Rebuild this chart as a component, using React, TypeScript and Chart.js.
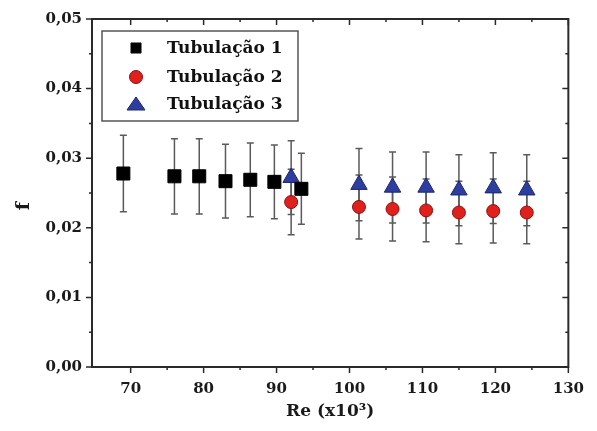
import React, { useEffect, useRef } from 'react';
import { Chart, registerables } from 'chart.js';

Chart.register(...registerables);

// Data (Re in x10^3, friction factor f, error bar half-lengths)
const tub1Re = [69.0, 76.0, 79.4, 83.0, 86.4, 89.7, 93.4];
const tub1F = [0.0278, 0.0274, 0.0274, 0.0267, 0.0269, 0.0266, 0.0256];
const tub1Err = [0.0055, 0.0054, 0.0054, 0.0053, 0.0053, 0.0053, 0.0051];

const tub2Re = [92.0, 101.3, 105.9, 110.5, 115.0, 119.7, 124.3];
const tub2F = [0.0237, 0.0230, 0.0227, 0.0225, 0.0222, 0.0224, 0.0222];
const tub2Err = [0.0047, 0.0046, 0.0046, 0.0045, 0.0045, 0.0046, 0.0045];

const tub3Re = [92.0, 101.3, 105.9, 110.5, 115.0, 119.7, 124.3];
const tub3F = [0.0272, 0.0262, 0.0258, 0.0258, 0.0254, 0.0257, 0.0254];
const tub3Err = [0.0053, 0.0052, 0.0051, 0.0051, 0.0051, 0.0051, 0.0051];

const seriesLabels = ['Tubulação 1', 'Tubulação 2', 'Tubulação 3'];
const xTickValues = [70, 80, 90, 100, 110, 120, 130];
const xMinorValues = [75, 85, 95, 105, 115, 125];
const yTickValues = [0, 0.01, 0.02, 0.03, 0.04, 0.05];
const yMinorValues = [0.005, 0.015, 0.025, 0.035, 0.045];

const FONT = "'DejaVu Serif', 'Liberation Serif', serif";
const AXIS_COLOR = '#2a2a2a';

const errorBarPlugin = {
  id: 'errorBars',
  beforeDatasetsDraw(chart: any) {
    const { ctx, scales } = chart;
    const xs = scales.x;
    const ys = scales.y;
    ctx.save();
    ctx.strokeStyle = '#5a5a5a';
    ctx.lineWidth = 1.5;
    chart.data.datasets.forEach((ds: any) => {
      const errs: number[] = ds.errors || [];
      ds.data.forEach((p: any, i: number) => {
        const e = errs[i];
        if (e == null) return;
        const px = xs.getPixelForValue(p.x);
        const yTop = ys.getPixelForValue(p.y + e);
        const yBot = ys.getPixelForValue(p.y - e);
        ctx.beginPath();
        ctx.moveTo(px, yTop);
        ctx.lineTo(px, yBot);
        ctx.moveTo(px - 3.5, yTop);
        ctx.lineTo(px + 3.5, yTop);
        ctx.moveTo(px - 3.5, yBot);
        ctx.lineTo(px + 3.5, yBot);
        ctx.stroke();
      });
    });
    ctx.restore();
  },
};

const framePlugin = {
  id: 'frameTicks',
  afterDraw(chart: any) {
    const { ctx, chartArea, scales } = chart;
    const { left, right, top, bottom } = chartArea;
    const xs = scales.x;
    const ys = scales.y;
    ctx.save();
    ctx.strokeStyle = AXIS_COLOR;
    ctx.lineWidth = 2;
    ctx.strokeRect(left, top, right - left, bottom - top);
    ctx.lineWidth = 1.5;
    ctx.beginPath();
    xTickValues.forEach((v) => {
      const px = xs.getPixelForValue(v);
      ctx.moveTo(px, bottom);
      ctx.lineTo(px, bottom + 6);
      ctx.moveTo(px, top);
      ctx.lineTo(px, top + 6);
    });
    xMinorValues.forEach((v) => {
      const px = xs.getPixelForValue(v);
      ctx.moveTo(px, bottom);
      ctx.lineTo(px, bottom + 3);
      ctx.moveTo(px, top);
      ctx.lineTo(px, top + 3);
    });
    yTickValues.forEach((v) => {
      const py = ys.getPixelForValue(v);
      ctx.moveTo(left, py);
      ctx.lineTo(left - 6, py);
      ctx.moveTo(right, py);
      ctx.lineTo(right - 6, py);
    });
    yMinorValues.forEach((v) => {
      const py = ys.getPixelForValue(v);
      ctx.moveTo(left, py);
      ctx.lineTo(left - 3, py);
      ctx.moveTo(right, py);
      ctx.lineTo(right - 3, py);
    });
    ctx.stroke();
    ctx.restore();
  },
};

const legendPlugin = {
  id: 'boxLegend',
  afterDraw(chart: any) {
    const { ctx, chartArea } = chart;
    const bx = chartArea.left + 10;
    const by = chartArea.top + 12;
    const bw = 196;
    const bh = 90;
    ctx.save();
    ctx.fillStyle = '#ffffff';
    ctx.fillRect(bx, by, bw, bh);
    ctx.strokeStyle = '#555555';
    ctx.lineWidth = 1.5;
    ctx.strokeRect(bx, by, bw, bh);
    const rowY = [by + 17, by + 46, by + 73];
    ctx.font = `bold 17px ${FONT}`;
    ctx.textBaseline = 'middle';
    ctx.textAlign = 'left';
    chart.data.datasets.forEach((ds: any, i: number) => {
      const mx = bx + 34;
      const my = rowY[i];
      ctx.fillStyle = ds.backgroundColor;
      ctx.strokeStyle = ds.borderColor;
      ctx.lineWidth = 1;
      ctx.beginPath();
      if (ds.pointStyle === 'rect') {
        ctx.rect(mx - 5, my - 5, 10, 10);
      } else if (ds.pointStyle === 'circle') {
        ctx.arc(mx, my, 6.5, 0, Math.PI * 2);
      } else {
        ctx.moveTo(mx, my - 7);
        ctx.lineTo(mx + 9, my + 6);
        ctx.lineTo(mx - 9, my + 6);
        ctx.closePath();
      }
      ctx.fill();
      ctx.stroke();
      ctx.fillStyle = '#111111';
      ctx.fillText(ds.label, bx + 65, my + 1);
    });
    ctx.restore();
  },
};

export default function App() {
  const canvasRef = useRef<HTMLCanvasElement | null>(null);

  useEffect(() => {
    document.body.style.margin = '0';
    const canvas = canvasRef.current;
    if (!canvas) return;
    const chart = new Chart(canvas, {
      type: 'scatter',
      data: {
        datasets: [
          {
            label: seriesLabels[0],
            data: tub1Re.map((x, i) => ({ x, y: tub1F[i] })),
            errors: tub1Err,
            pointStyle: 'rect',
            pointRadius: 9.2,
            pointHoverRadius: 9.2,
            backgroundColor: '#000000',
            borderColor: '#000000',
            borderWidth: 1,
          } as any,
          {
            label: seriesLabels[1],
            data: tub2Re.map((x, i) => ({ x, y: tub2F[i] })),
            errors: tub2Err,
            pointStyle: 'circle',
            pointRadius: 6.5,
            pointHoverRadius: 6.5,
            backgroundColor: '#e0201c',
            borderColor: '#8c1010',
            borderWidth: 1,
          } as any,
          {
            label: seriesLabels[2],
            data: tub3Re.map((x, i) => ({ x, y: tub3F[i] })),
            errors: tub3Err,
            pointStyle: 'triangle',
            pointRadius: 9.5,
            pointHoverRadius: 9.5,
            backgroundColor: '#2e3e9e',
            borderColor: '#1c2670',
            borderWidth: 1,
          } as any,
        ],
      },
      options: {
        animation: false,
        responsive: false,
        maintainAspectRatio: false,
        layout: { padding: { left: 0, right: 23, top: 15, bottom: 0 } },
        plugins: {
          legend: { display: false },
          tooltip: { enabled: false },
        },
        scales: {
          x: {
            type: 'linear',
            min: 64.7,
            max: 130,
            afterBuildTicks: (s: any) => {
              s.ticks = xTickValues.map((v) => ({ value: v }));
            },
            afterFit: (s: any) => {
              s.height = 64;
            },
            grid: { display: false, drawTicks: false, tickLength: 0 },
            border: { display: false },
            ticks: {
              padding: 13,
              color: '#1a1a1a',
              font: { family: FONT, size: 15, weight: 'bold' },
              callback: (v: any) => String(v),
            },
            title: {
              display: true,
              text: 'Re (x10³)',
              color: '#1a1a1a',
              font: { family: FONT, size: 17, weight: 'bold' },
              padding: { top: 0, bottom: 9 },
            },
          },
          y: {
            type: 'linear',
            min: 0,
            max: 0.05,
            afterBuildTicks: (s: any) => {
              s.ticks = yTickValues.map((v) => ({ value: v }));
            },
            afterFit: (s: any) => {
              s.width = 92;
            },
            grid: { display: false, drawTicks: false, tickLength: 0 },
            border: { display: false },
            ticks: {
              padding: 10,
              color: '#1a1a1a',
              font: { family: FONT, size: 15, weight: 'bold' },
              callback: (v: any) => Number(v).toFixed(2).replace('.', ','),
            },
            title: {
              display: true,
              text: 'f    ',
              color: '#1a1a1a',
              font: { family: FONT, size: 19, weight: 'bold' },
              padding: { top: 13, bottom: 0 },
            },
          },
        },
      } as any,
      plugins: [errorBarPlugin, framePlugin, legendPlugin],
    });
    return () => chart.destroy();
  }, []);

  return (
    <div style={{ width: 597, height: 431, background: '#ffffff' }}>
      <canvas ref={canvasRef} width={597} height={431} style={{ display: 'block' }} />
    </div>
  );
}
